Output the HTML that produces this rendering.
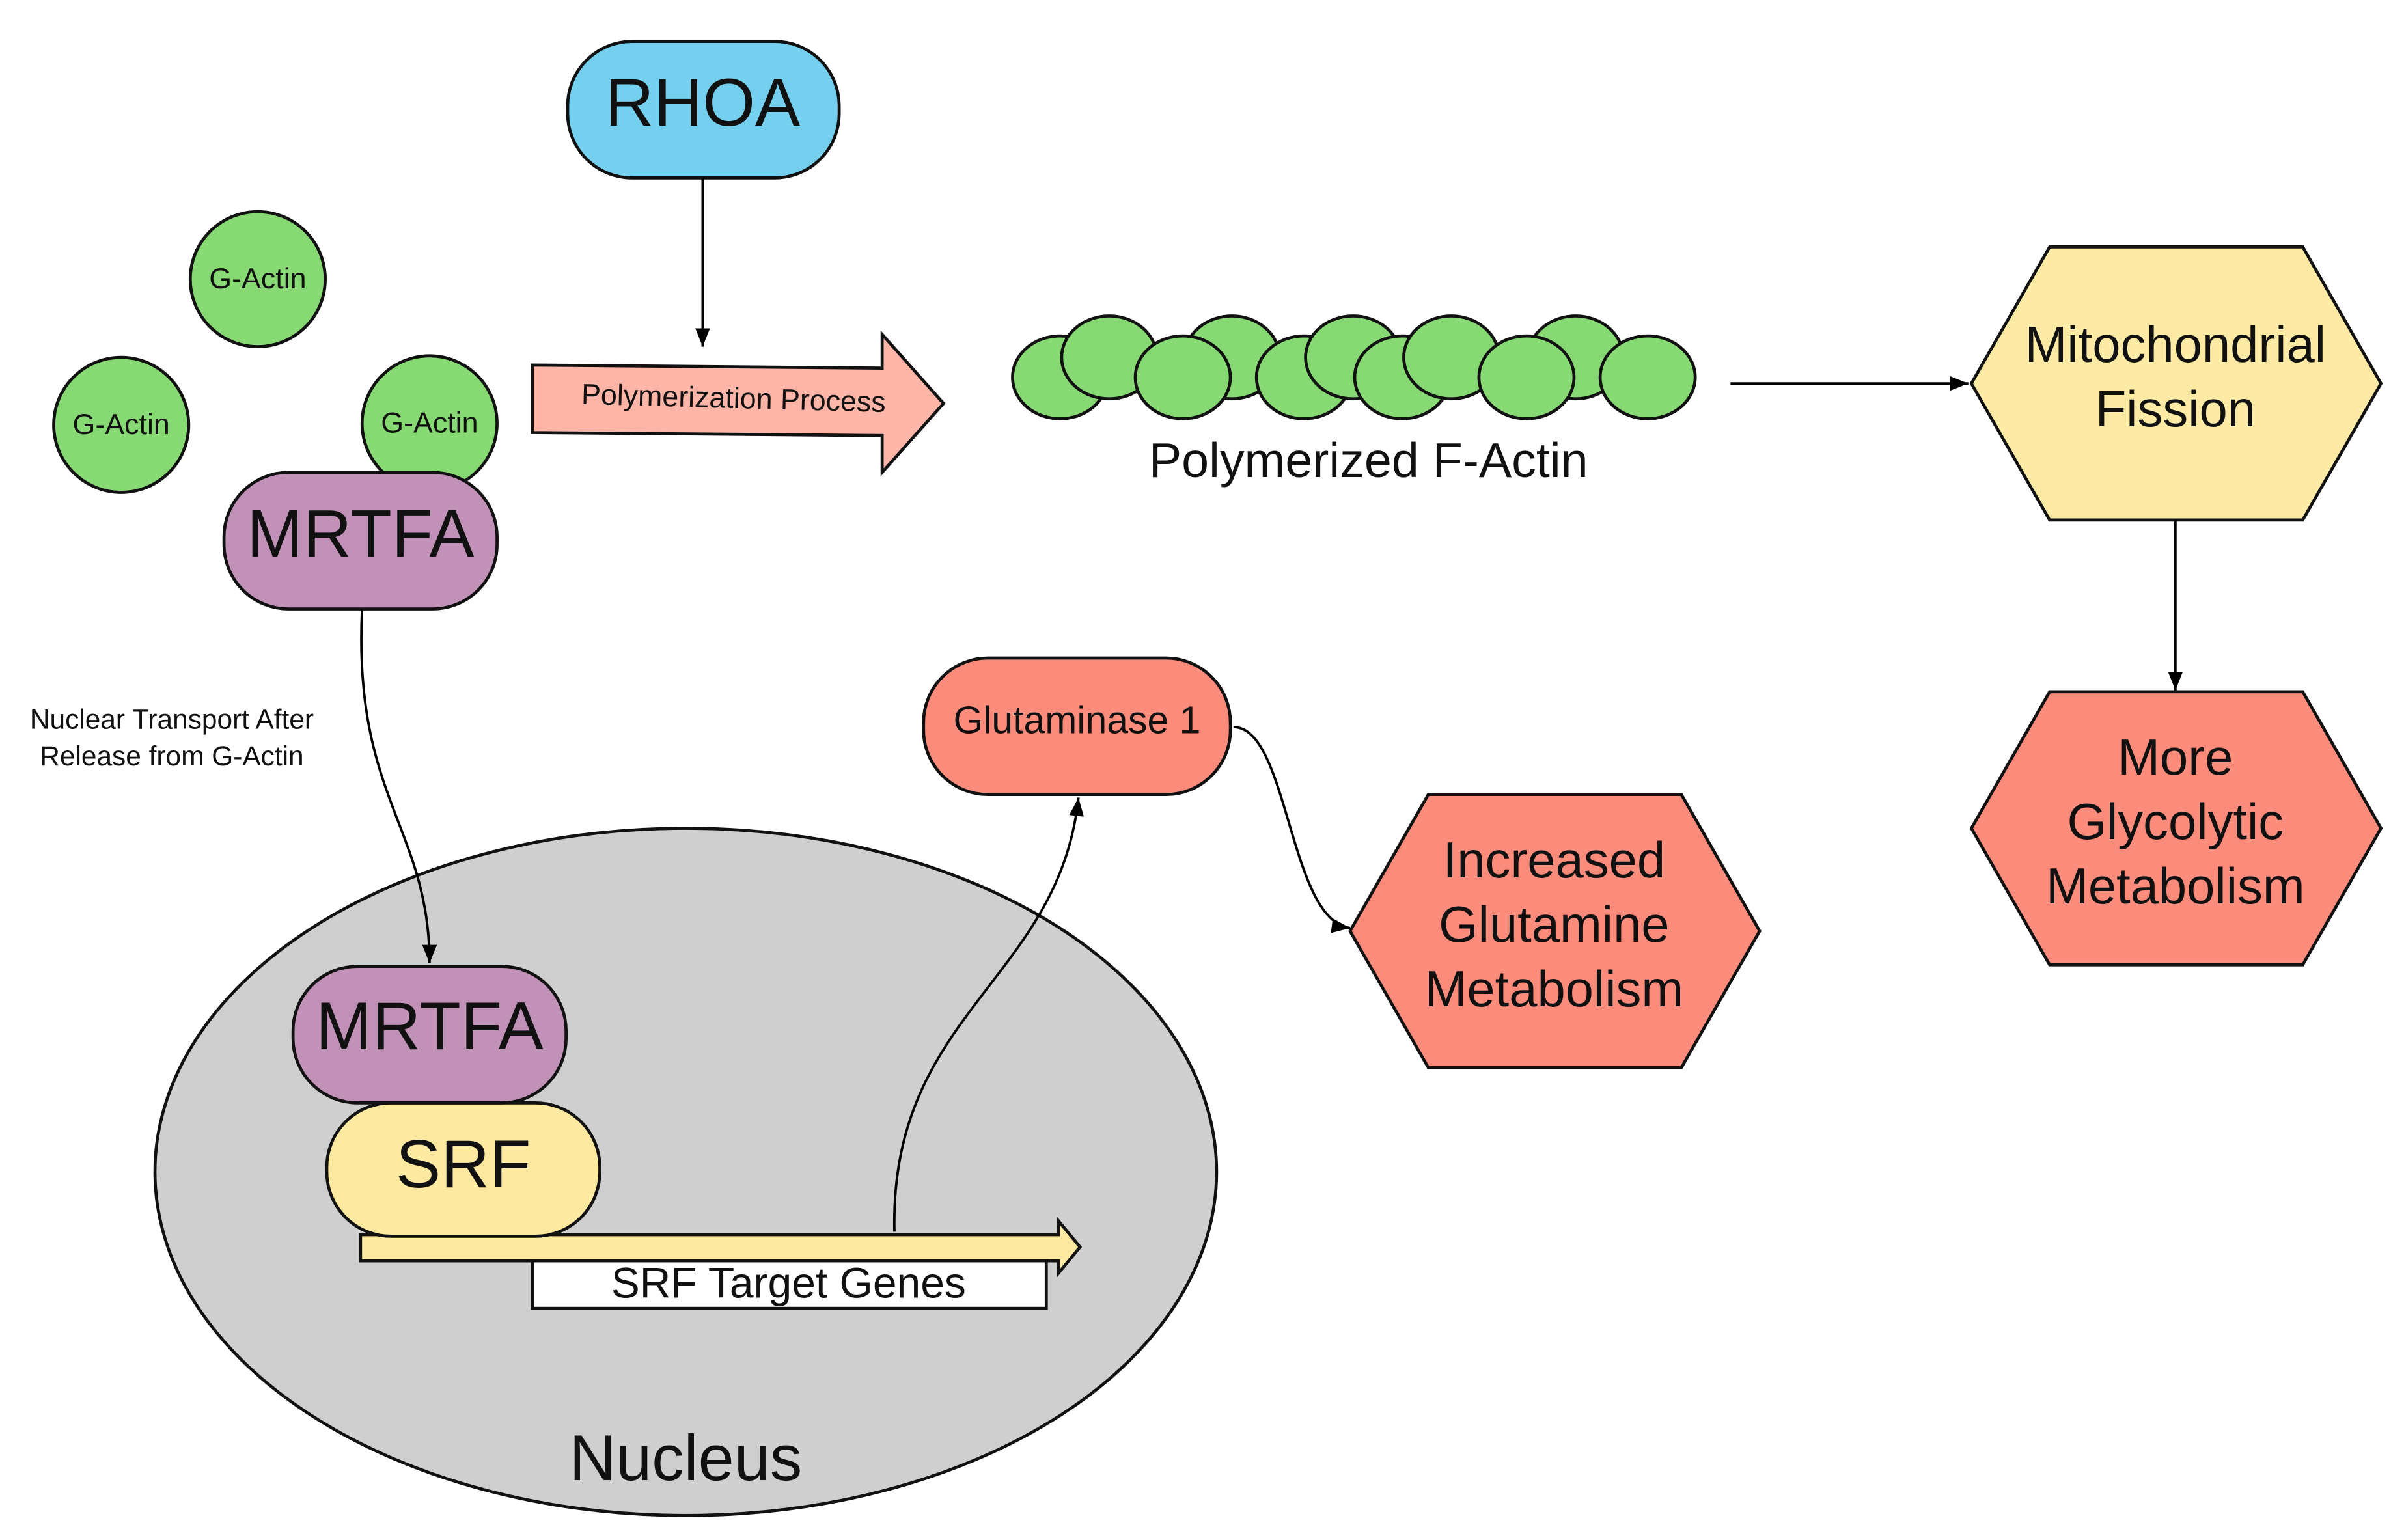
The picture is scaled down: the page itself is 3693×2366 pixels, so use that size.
<!DOCTYPE html>
<html><head><style>html,body{margin:0;padding:0;background:#fff}svg{display:block}</style></head>
<body>
<svg width="3693" height="2366" viewBox="0 0 1567 1004" preserveAspectRatio="none" xmlns="http://www.w3.org/2000/svg" font-family="Liberation Sans, sans-serif">
<defs>
<marker id="b" viewBox="0 0 10 10" markerWidth="12" markerHeight="16" refX="10" refY="5" orient="auto" markerUnits="userSpaceOnUse"><path d="M0,1 L10,5 L0,9 z" fill="#000"/></marker></defs>
<g stroke="#111" stroke-width="2">
<ellipse cx="447" cy="764" rx="346" ry="224" fill="#cfcfcf"/>
<rect x="370" y="27" width="177" height="89" rx="42" fill="#75d0f0"/>
<ellipse cx="168" cy="182" rx="44" ry="44" fill="#86d973"/>
<ellipse cx="79" cy="277" rx="44" ry="44" fill="#86d973"/>
<ellipse cx="280" cy="276" rx="44" ry="44" fill="#86d973"/>
<rect x="146" y="308" width="178" height="89" rx="42" fill="#c191b8"/>
<path d="M347,238 L575,240 L575,218 L615,263 L575,308 L575,284 L347,282 z" fill="#fdb5a8"/>
<g fill="#86d973">
<ellipse cx="803" cy="233" rx="31" ry="27"/><ellipse cx="1027" cy="233" rx="31" ry="27"/>
<ellipse cx="691" cy="246" rx="31" ry="27"/><ellipse cx="723" cy="233" rx="31" ry="27"/>
<ellipse cx="771" cy="246" rx="31" ry="27"/>
<ellipse cx="850" cy="246" rx="31" ry="27"/><ellipse cx="882" cy="233" rx="31" ry="27"/>
<ellipse cx="914" cy="246" rx="31" ry="27"/><ellipse cx="946" cy="233" rx="31" ry="27"/>
<ellipse cx="995" cy="246" rx="31" ry="27"/><ellipse cx="1074" cy="246" rx="31" ry="27"/>
</g>
<polygon points="1285,250 1336,161 1501,161 1552,250 1501,339 1336,339" fill="#fdeba5"/>
<polygon points="1285,540 1336,451 1501,451 1552,540 1501,629 1336,629" fill="#fb8c7c"/>
<polygon points="880,607 931,518 1096,518 1147,607 1096,696 931,696" fill="#fb8c7c"/>
<rect x="602" y="429" width="200" height="89" rx="42" fill="#fb8c7c"/>
<path d="M235,805 L690,805 L690,796 L704,813 L690,830 L690,822 L235,822 z" fill="#fde9a0"/>
<rect x="213" y="719" width="178" height="87" rx="42" fill="#fde9a0"/>
<rect x="191" y="630" width="178" height="89" rx="42" fill="#c191b8"/>
<rect x="347" y="822" width="335" height="31" fill="#fff"/>
</g>
<g stroke="#000" stroke-width="1.6" fill="none">
<line x1="458" y1="116" x2="458" y2="226" marker-end="url(#b)"/>
<line x1="1128" y1="250" x2="1283" y2="250" marker-end="url(#b)"/>
<line x1="1418" y1="339" x2="1418" y2="450" marker-end="url(#b)"/>
<path d="M236,397 C230,520 280,540 280,628" marker-end="url(#b)"/>
<path d="M583,803 C580,660 690,640 703,520" marker-end="url(#b)"/>
<path d="M804,474 C840,474 840,600 880,605" marker-end="url(#b)"/>
</g>
<g text-anchor="middle" fill="#111">
<text x="458" y="82" font-size="44">RHOA</text>
<text x="168" y="188" font-size="19">G-Actin</text>
<text x="79" y="283" font-size="19">G-Actin</text>
<text x="280" y="282" font-size="19">G-Actin</text>
<text x="235" y="363" font-size="44">MRTFA</text>
<text x="478" y="266" font-size="19" transform="rotate(1.5 478 266)">Polymerization Process</text>
<text x="892" y="311" font-size="32">Polymerized F-Actin</text>
<text x="1418" y="236" font-size="33">Mitochondrial</text>
<text x="1418" y="278" font-size="33">Fission</text>
<text x="1418" y="505" font-size="33">More</text>
<text x="1418" y="547" font-size="33">Glycolytic</text>
<text x="1418" y="589" font-size="33">Metabolism</text>
<text x="1013" y="572" font-size="33">Increased</text>
<text x="1013" y="614" font-size="33">Glutamine</text>
<text x="1013" y="656" font-size="33">Metabolism</text>
<text x="702" y="478" font-size="25">Glutaminase 1</text>
<text x="112" y="475" font-size="18">Nuclear Transport After</text>
<text x="112" y="499" font-size="18">Release from G-Actin</text>
<text x="280" y="684" font-size="44">MRTFA</text>
<text x="302" y="774" font-size="44">SRF</text>
<text x="514" y="846" font-size="28">SRF Target Genes</text>
<text x="447" y="965" font-size="42">Nucleus</text>
</g>
</svg>
</body></html>
